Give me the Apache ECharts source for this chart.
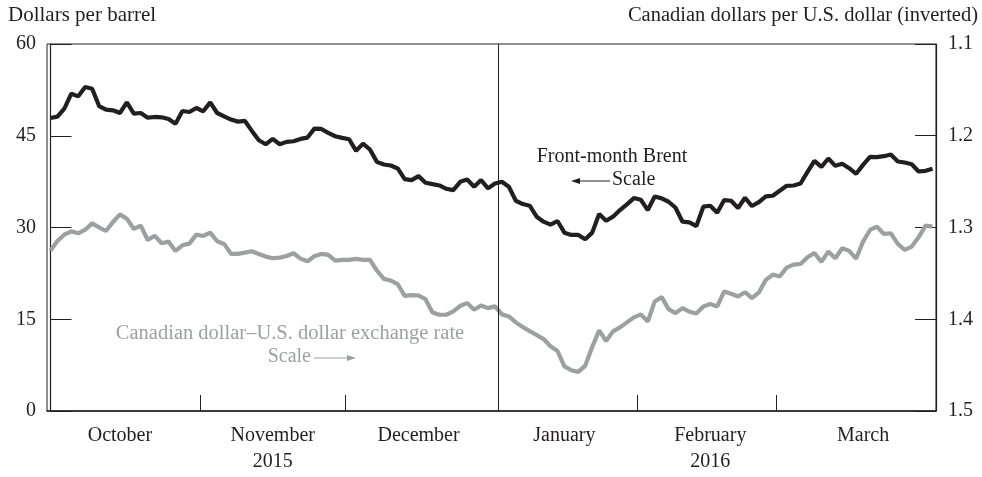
<!DOCTYPE html>
<html lang="en">
<head>
    <meta charset="UTF-8">
    <title>Brent and Canadian dollar</title>
    <script src="https://cdn.jsdelivr.net/npm/echarts@6/dist/echarts.min.js"></script>
    <style>
        html, body { margin: 0; padding: 0; background: #fff; }
        #chart { width: 982px; height: 477px; }
    </style>
</head>
<body>
    <div id="chart"></div>
    <script>
        // business days shown on the axis (exchange holidays dropped)
        var startDay = '2015-10-01';
        var endDay = '2016-03-31';
        var holidays = ['2015-12-25', '2016-01-01', '2016-02-15'];

        // month labels and the day each one sits under
        var monthLabels = ['October', 'November\n2015', 'December', 'January', 'February\n2016', 'March'];
        var monthLabelDays = ['2015-10-15', '2015-11-16', '2015-12-15', '2016-01-15', '2016-02-16', '2016-03-17'];

        // front-month Brent, dollars per barrel (left scale)
        var brent = [
            47.91, 48.12, 49.43, 51.87, 51.44, 52.96, 52.69, 49.86, 49.27, 49.16,
            48.72, 50.46, 48.61, 48.72, 47.96, 48.07, 48.02, 47.74, 46.98, 49.05,
            48.89, 49.54, 49.00, 50.46, 48.72, 48.18, 47.64, 47.31, 47.42, 45.79,
            44.27, 43.61, 44.48, 43.61, 44.00, 44.10, 44.48, 44.70, 46.17, 46.11,
            45.46, 44.92, 44.65, 44.43, 42.53, 43.72, 42.75, 40.73, 40.30, 40.14,
            39.65, 37.91, 37.75, 38.40, 37.31, 37.09, 36.87, 36.33, 36.11, 37.47,
            37.85, 36.66, 37.75, 36.39, 37.20,
            37.47, 36.66, 34.37, 33.83, 33.56, 31.77, 30.95, 30.46, 31.06, 29.16,
            28.78, 28.78, 28.07, 29.16, 32.20, 31.11, 31.77, 32.85, 33.78, 34.81,
            34.54, 32.85, 35.08, 34.76, 34.21, 33.23, 30.95, 30.84, 30.24, 33.40,
            33.56, 32.42, 34.48, 34.37, 33.18, 34.86, 33.51, 34.16, 35.08, 35.19,
            36.01, 36.82, 36.87, 37.20, 39.10, 40.90, 39.92, 41.28, 40.08, 40.41,
            39.70, 38.78, 40.24, 41.55, 41.50, 41.66, 41.93, 40.79, 40.62, 40.35,
            39.16, 39.27, 39.59
        ];

        // Canadian dollars per U.S. dollar (right scale, inverted)
        var cad = [
            1.3252, 1.3147, 1.3078, 1.3042, 1.3063, 1.3024, 1.2955, 1.2998, 1.3038, 1.2940,
            1.2857, 1.2904, 1.3016, 1.2980, 1.3136, 1.3089, 1.3172, 1.3154, 1.3255, 1.3194,
            1.3176, 1.3078, 1.3092, 1.3056, 1.3150, 1.3179, 1.3288, 1.3288, 1.3274, 1.3259,
            1.3288, 1.3317, 1.3335, 1.3328, 1.3310, 1.3281, 1.3339, 1.3368, 1.3313, 1.3288,
            1.3299, 1.3361, 1.3353, 1.3353, 1.3342, 1.3353, 1.3353, 1.3469, 1.3560, 1.3578,
            1.3618, 1.3745, 1.3737, 1.3741, 1.3781, 1.3926, 1.3951, 1.3951, 1.3915, 1.3853,
            1.3824, 1.3897, 1.3850, 1.3879, 1.3860,
            1.3947, 1.3969, 1.4034, 1.4085, 1.4129, 1.4172, 1.4216, 1.4295, 1.4346, 1.4513,
            1.4556, 1.4574, 1.4505, 1.4303, 1.4121, 1.4237, 1.4132, 1.4089, 1.4034, 1.3980,
            1.3947, 1.4024, 1.3806, 1.3759, 1.3890, 1.3933, 1.3879, 1.3918, 1.3937, 1.3860,
            1.3835, 1.3860, 1.3697, 1.3723, 1.3752, 1.3705, 1.3770, 1.3708, 1.3571, 1.3513,
            1.3534, 1.3437, 1.3404, 1.3397, 1.3324, 1.3277, 1.3375, 1.3263, 1.3335, 1.3226,
            1.3255, 1.3339, 1.3154, 1.3027, 1.2991, 1.3070, 1.3063, 1.3179, 1.3245, 1.3208,
            1.3107, 1.2980, 1.2991
        ];

        function businessDays (from, to, skip) {
            var out = [];
            var d = new Date(from + 'T00:00:00Z');
            var end = new Date(to + 'T00:00:00Z');
            while (d <= end) {
                var s = d.toISOString().slice(0, 10);
                var wd = d.getUTCDay();
                if (wd !== 0 && wd !== 6 && skip.indexOf(s) < 0) {
                    out.push(s);
                }
                d.setUTCDate(d.getUTCDate() + 1);
            }
            return out;
        }

        var days = businessDays(startDay, endDay, holidays);

        // x is the business-day index; month ticks sit between the last and first day of a month
        var monthTicks = [];
        var janLine = null;
        for (var i = 1; i < days.length; i++) {
            if (days[i].slice(0, 7) !== days[i - 1].slice(0, 7)) {
                monthTicks.push(i - 0.5);
                if (days[i].slice(0, 7) === '2016-01') janLine = i - 0.5;
            }
        }
        var labelAt = monthLabelDays.map(function (d) { return days.indexOf(d); });

        var FONT = '"Liberation Serif", "Times New Roman", serif';
        var INK = '#231f20';
        var GREY = '#9d9fa2';
        var FS = 20;

        // year divider, plus short month ticks standing on the x axis (drawn on both scales)
        var markersLeft = [{ xAxis: janLine }];
        var markersRight = [];
        monthTicks.forEach(function (t) {
            markersLeft.push([{ coord: [t, 0] }, { coord: [t, 2.6] }]);
            markersRight.push([{ coord: [t, 1.5] }, { coord: [t, 1.4826] }]);
        });

        var myChart = echarts.init(document.getElementById('chart'), null, { renderer: 'canvas' });

        var option = {
            animation: false,
            grid: {
                left: 47, right: 46, top: 44, bottom: 66,
                show: true,
                borderColor: INK,
                borderWidth: 1
            },
            xAxis: [{
                type: 'value',
                min: -0.5,
                max: days.length - 0.5,
                axisLine: { show: true, onZero: false, lineStyle: { color: INK, width: 1.5 } },
                axisTick: {
                    show: true,
                    inside: true,
                    length: 16,
                    customValues: monthTicks
                },
                splitLine: { show: false },
                axisLabel: {
                    customValues: labelAt,
                    formatter: function (v) { return monthLabels[labelAt.indexOf(Math.round(v))] || ''; },
                    fontFamily: FONT,
                    fontSize: FS,
                    color: INK,
                    lineHeight: 26,
                    margin: 12
                }
            }],
            yAxis: [{
                type: 'value',
                min: 0,
                max: 60,
                interval: 15,
                axisLine: { show: true, lineStyle: { color: INK, width: 1.2 } },
                axisTick: { show: true, inside: true, length: 21, lineStyle: { color: INK } },
                splitLine: { show: false },
                axisLabel: { fontFamily: FONT, fontSize: FS, color: INK, margin: 11 }
            }, {
                type: 'value',
                min: 1.1,
                max: 1.5,
                interval: 0.1,
                inverse: true,
                position: 'right',
                axisLine: { show: true, lineStyle: { color: INK, width: 1.2 } },
                axisTick: { show: true, inside: true, length: 21, lineStyle: { color: INK } },
                splitLine: { show: false },
                axisLabel: {
                    fontFamily: FONT, fontSize: FS, color: INK, margin: 12,
                    formatter: function (v) { return v.toFixed(1); }
                }
            }],
            series: [{
                name: 'Front-month Brent',
                type: 'line',
                yAxisIndex: 0,
                data: brent.map(function (v, k) { return [k, v]; }),
                symbol: 'none',
                lineStyle: { color: INK, width: 4.2 },
                z: 3,
                markLine: {
                    silent: true,
                    symbol: 'none',
                    label: { show: false },
                    lineStyle: { color: INK, width: 1, type: 'solid' },
                    data: markersLeft
                }
            }, {
                name: 'Canadian dollar-U.S. dollar exchange rate',
                type: 'line',
                yAxisIndex: 1,
                data: cad.map(function (v, k) { return [k, v]; }),
                symbol: 'none',
                lineStyle: { color: GREY, width: 4.2 },
                z: 2,
                markLine: {
                    silent: true,
                    symbol: 'none',
                    label: { show: false },
                    lineStyle: { color: INK, width: 1, type: 'solid' },
                    data: markersRight
                }
            }],
            graphic: [
                { type: 'text', left: 8, top: 5, style: { text: 'Dollars per barrel', font: '21px ' + FONT, fill: INK } },
                { type: 'text', right: 4, top: 5, style: { text: 'Canadian dollars per U.S. dollar (inverted)', font: '20.5px ' + FONT, fill: INK } },
                { type: 'text', x: 612, y: 157, style: { text: 'Front-month Brent', font: FS + 'px ' + FONT, fill: INK, align: 'center', verticalAlign: 'middle' } },
                { type: 'text', x: 612, y: 180, style: { text: 'Scale', font: FS + 'px ' + FONT, fill: INK, align: 'left', verticalAlign: 'middle' } },
                { type: 'line', shape: { x1: 576, y1: 181, x2: 610, y2: 181 }, style: { stroke: INK, lineWidth: 1 } },
                { type: 'polygon', shape: { points: [[571, 181], [580, 178], [580, 184]] }, style: { fill: INK } },
                { type: 'text', x: 290, y: 334, style: { text: 'Canadian dollar\u2013U.S. dollar exchange rate', font: '20.5px ' + FONT, fill: GREY, align: 'center', verticalAlign: 'middle' } },
                { type: 'text', x: 311, y: 357, style: { text: 'Scale', font: FS + 'px ' + FONT, fill: GREY, align: 'right', verticalAlign: 'middle' } },
                { type: 'line', shape: { x1: 314, y1: 358, x2: 350, y2: 358 }, style: { stroke: GREY, lineWidth: 1 } },
                { type: 'polygon', shape: { points: [[356, 358], [347, 355], [347, 361]] }, style: { fill: GREY } }
            ]
        };

        myChart.setOption(option);
    </script>
</body>
</html>
